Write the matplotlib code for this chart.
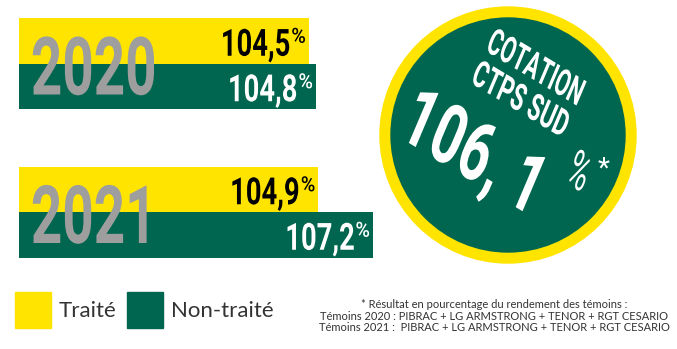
import matplotlib
matplotlib.use("Agg")
import matplotlib.pyplot as plt
from matplotlib import patches, patheffects, transforms
from matplotlib.transforms import Affine2D

# Rendement (% des témoins) par année
years = ["2020", "2021"]
traite = [104.5, 104.9]
non_traite = [104.8, 107.2]
cotation_label = ["COTATION", "CTPS SUD"]
cotation = 106.1
series_labels = ["Traité", "Non-traité"]
footnote = [
    "* Résultat en pourcentage du rendement des témoins :",
    "Témoins 2020 : PIBRAC + LG ARMSTRONG + TENOR + RGT CESARIO",
    "Témoins 2021 :  PIBRAC + LG ARMSTRONG + TENOR + RGT CESARIO",
]

YELLOW = "#FFE400"
GREEN = "#00664F"
GREY = "#9E9E9E"
COND = ["Roboto", "DejaVu Sans"]
W, H = 677, 349


class Squeeze(patheffects.AbstractPathEffect):
    """Resserre horizontalement le texte (effet police condensée),
    avec une inclinaison optionnelle des verticales."""

    def __init__(self, sx, anchor="center", skew=0):
        super().__init__()
        self.sx = sx
        self.anchor = anchor
        self.skew = skew

    def draw_path(self, renderer, gc, tpath, affine, rgbFace=None):
        x0, _, x1, _ = tpath.get_extents().extents
        cx = {"left": x0, "center": (x0 + x1) / 2, "right": x1}[self.anchor]
        # x' = x + tan(skew) * y : seules les verticales penchent
        squeeze = (Affine2D().translate(-cx, 0).scale(self.sx, 1)
                   .skew_deg(0, self.skew).translate(cx, 0))
        renderer.draw_path(gc, tpath, squeeze + affine, rgbFace)


def fmt(v):
    return f"{v:.1f}".replace(".", ",")


fig = plt.figure(figsize=(W / 100, H / 100), dpi=100)

# barres : axe x en valeur, axe y en pixels
ax = fig.add_axes([19 / W, 0, 1 - 19 / W, 1])
ax.set_xlim(92.3, 120.0)
ax.set_ylim(H, 0)
ax.axis("off")

group_y = [63.5, 212]
bar_h = 45.5
for i, year in enumerate(years):
    yc = group_y[i]
    ax.barh(yc - bar_h / 2, traite[i], height=bar_h, color=YELLOW, zorder=1)
    ax.barh(yc + bar_h / 2, non_traite[i], height=bar_h, color=GREEN, zorder=1)

    for val, y, col in [(traite[i], yc - bar_h / 2, "black"),
                        (non_traite[i], yc + bar_h / 2, "white")]:
        base = y + 15
        pct_tr = transforms.offset_copy(ax.transData, fig, x=-3, y=0, units="dots")
        num_tr = transforms.offset_copy(ax.transData, fig, x=-18, y=0, units="dots")
        ax.text(val, base - 13, "%", transform=pct_tr, ha="right", va="baseline",
                fontsize=15, family=COND, fontweight="medium", color=col, zorder=3,
                path_effects=[Squeeze(0.95, "right")])
        ax.text(val, base, fmt(val), transform=num_tr, ha="right", va="baseline",
                fontsize=27, family=COND, fontweight="bold", color=col, zorder=3,
                path_effects=[Squeeze(0.73, "right")])

# calque en pixels pour le reste
ov = fig.add_axes([0, 0, 1, 1], zorder=2)
ov.set_xlim(0, W)
ov.set_ylim(H, 0)
ov.axis("off")

for i, year in enumerate(years):
    ov.text(30, group_y[i] + 31, year, ha="left", va="baseline", fontsize=58,
            family=COND, fontweight="bold", color=GREY,
            path_effects=[Squeeze(0.68, "left")])

# pastille cotation
ov.add_patch(patches.Circle((508, 135), 128, color=YELLOW))
ov.add_patch(patches.Circle((508, 135), 117, color=GREEN))
rot, lean = -23, -8
for (x, y), lab, sx in zip([(535, 69), (520, 101)], cotation_label, [0.59, 0.62]):
    ov.text(x, y, lab, rotation=rot, rotation_mode="anchor",
            ha="center", va="center", fontsize=26.5, family=COND, fontweight="bold",
            color="white", path_effects=[Squeeze(sx, skew=lean)])
big = fmt(cotation).replace(",", ", ")
ov.text(474, 156, big, rotation=rot, rotation_mode="anchor",
        ha="center", va="center", fontsize=59, family=COND, fontweight="bold",
        color="white", path_effects=[Squeeze(0.68, skew=lean)])
ov.text(578, 174, "%", rotation=rot, rotation_mode="anchor",
        ha="center", va="center", fontsize=37, family=COND,
        color="white", path_effects=[Squeeze(0.58, skew=lean)])
ov.text(604, 169, "*", ha="center", va="center", fontsize=20, family=COND,
        color="white")

# légende
for x, col, lab in [(15, YELLOW, series_labels[0]), (127, GREEN, series_labels[1])]:
    ov.add_patch(patches.Rectangle((x, 292), 36, 36, color=col))
    ov.text(x + 44, 311, lab, ha="left", va="center", fontsize=16,
            family="Lato", color="#333333")

ov.text(494, 316, "\n".join(footnote), ha="center", va="center", fontsize=8.0,
        family="Lato", color="#333333", linespacing=1.1)

fig.savefig("out.png", dpi=100)
